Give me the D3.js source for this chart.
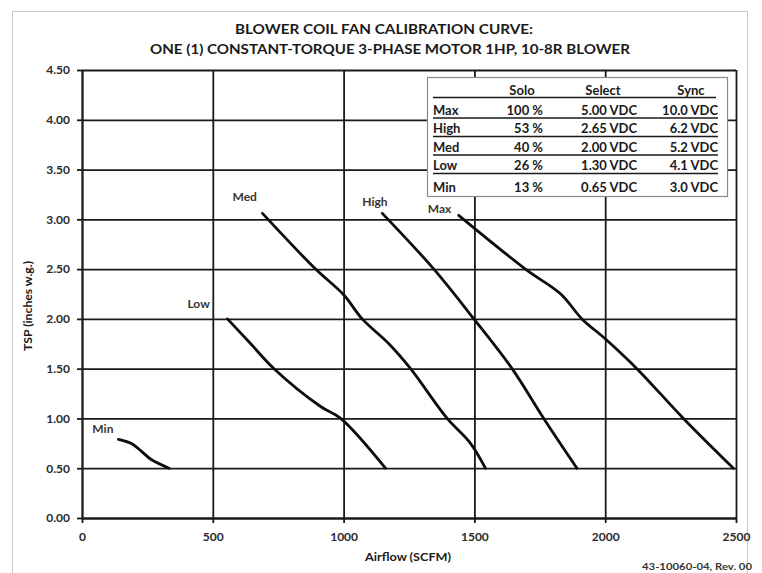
<!DOCTYPE html>
<html>
<head>
<meta charset="utf-8">
<script src="https://cdn.jsdelivr.net/npm/d3@7"></script>
<style>
  html, body { margin: 0; padding: 0; background: #fff; }
  svg { display: block; font-family: Lato, "Open Sans", sans-serif; font-weight: bold; }
</style>
</head>
<body>
<svg id="chart" width="762" height="573"></svg>
<script>
// ---- Data ----
const titleLines = ["BLOWER COIL FAN CALIBRATION CURVE:", "ONE (1) CONSTANT-TORQUE 3-PHASE MOTOR 1HP, 10-8R BLOWER"];
const xTicks = [0, 500, 1000, 1500, 2000, 2500];
const yTicks = [0, 0.5, 1.0, 1.5, 2.0, 2.5, 3.0, 3.5, 4.0, 4.5];
const xLabel = "Airflow (SCFM)";
const yLabel = "TSP (inches w.g.)";
const footer = "43-10060-04, Rev. 00";

const seriesNames = ["Min", "Low", "Med", "High", "Max"];
const minX  = [139, 187, 232, 263, 333];
const minY  = [0.79, 0.75, 0.66, 0.59, 0.50];
const lowX  = [556, 645, 734, 912, 989, 1160];
const lowY  = [2.00, 1.75, 1.50, 1.12, 1.00, 0.50];
const medX  = [690, 893, 1001, 1071, 1173, 1256, 1396, 1485, 1542];
const medY  = [3.06, 2.50, 2.24, 2.00, 1.75, 1.50, 1.00, 0.75, 0.50];
const highX = [1148, 1345, 1498, 1644, 1765, 1892];
const highY = [3.06, 2.50, 2.00, 1.50, 1.00, 0.50];
const maxX  = [1440, 1695, 1830, 1911, 2000, 2121, 2299, 2490];
const maxY  = [3.04, 2.50, 2.25, 2.00, 1.80, 1.50, 1.00, 0.50];

const tableHeader = ["Solo", "Select", "Sync"];
const tableRows = ["Max", "High", "Med", "Low", "Min"];
const soloVals = ["100 %", "53 %", "40 %", "26 %", "13 %"];
const selectVals = ["5.00 VDC", "2.65 VDC", "2.00 VDC", "1.30 VDC", "0.65 VDC"];
const syncVals = ["10.0 VDC", "6.2 VDC", "5.2 VDC", "4.1 VDC", "3.0 VDC"];

// ---- Layout ----
const svg = d3.select("#chart");
const x = d3.scaleLinear().domain([0, 2500]).range([82, 736]);
const y = d3.scaleLinear().domain([0, 4.5]).range([518, 70]);
const ink = "#1a1a1a";

// page border
svg.append("rect").attr("x", 12.5).attr("y", 11.5).attr("width", 735).attr("height", 600)
  .attr("fill", "none").attr("stroke", "#c8c8c8").attr("stroke-width", 1);

// title
svg.append("text").attr("x", 384).attr("y", 33.5).attr("text-anchor", "middle")
  .attr("font-size", 14).attr("fill", ink).attr("textLength", 298).attr("lengthAdjust", "spacingAndGlyphs")
  .text(titleLines[0]);
svg.append("text").attr("x", 390).attr("y", 54).attr("text-anchor", "middle")
  .attr("font-size", 14).attr("fill", ink).attr("textLength", 480).attr("lengthAdjust", "spacingAndGlyphs")
  .text(titleLines[1]);

// grid
const grid = svg.append("g");
grid.append("g").attr("transform", `translate(${x(0)},0)`)
  .call(d3.axisLeft(y).tickValues(yTicks).tickSize(-(x(2500) - x(0))).tickFormat(""))
  .call(g => g.select(".domain").remove())
  .call(g => g.selectAll("line").attr("stroke", ink).attr("stroke-width", 1.8));
grid.append("g").attr("transform", `translate(0,${y(0)})`)
  .call(d3.axisBottom(x).tickValues(xTicks).tickSize(-(y(0) - y(4.5))).tickFormat(""))
  .call(g => g.select(".domain").remove())
  .call(g => g.selectAll("line").attr("stroke", ink).attr("stroke-width", 1.8));

// axes
const yAxis = svg.append("g").attr("transform", `translate(${x(0)},0)`)
  .call(d3.axisLeft(y).tickValues(yTicks).tickSize(5).tickSizeOuter(0).tickPadding(7).tickFormat(d3.format(".2f")));
const xAxis = svg.append("g").attr("transform", `translate(0,${y(0)})`)
  .call(d3.axisBottom(x).tickValues(xTicks).tickSize(5).tickSizeOuter(0).tickPadding(9).tickFormat(d3.format("d")));
[yAxis, xAxis].forEach(a => {
  a.select(".domain").attr("stroke", ink).attr("stroke-width", 1.8);
  a.selectAll(".tick line").attr("stroke", ink).attr("stroke-width", 1.8);
  a.selectAll(".tick text").attr("font-size", 12).attr("font-family", "Lato, sans-serif")
    .attr("font-weight", "bold").attr("fill", "#2a2a2a");
});

// axis titles
svg.append("text").attr("x", 408).attr("y", 561).attr("text-anchor", "middle")
  .attr("font-size", 12).attr("fill", ink).attr("textLength", 86).attr("lengthAdjust", "spacingAndGlyphs")
  .text(xLabel);
svg.append("text").attr("transform", "translate(32,306) rotate(-90)").attr("text-anchor", "middle")
  .attr("font-size", 11.5).attr("fill", ink).attr("textLength", 90).attr("lengthAdjust", "spacingAndGlyphs")
  .text(yLabel);

// footer
svg.append("text").attr("x", 752).attr("y", 570).attr("text-anchor", "end")
  .attr("font-size", 9.5).attr("fill", "#333").attr("textLength", 110).attr("lengthAdjust", "spacingAndGlyphs")
  .text(footer);

// curves
const seriesX = [minX, lowX, medX, highX, maxX];
const seriesY = [minY, lowY, medY, highY, maxY];
const line = d3.line().x(d => x(d[0])).y(d => y(d[1])).curve(d3.curveCatmullRom.alpha(0.5));
seriesNames.forEach((name, i) => {
  const pts = seriesX[i].map((v, j) => [v, seriesY[i][j]]);
  svg.append("path").attr("d", line(pts)).attr("fill", "none")
    .attr("stroke", "#0d0d0d").attr("stroke-width", 2.8)
    .attr("stroke-linecap", "round").attr("stroke-linejoin", "round");
});

// curve labels (placed relative to each curve's first point)
const labelDx = [-26, -40, -30, -20, -31];
const labelDy = [-6, -11, -12, -7, -2];
seriesNames.forEach((name, i) => {
  svg.append("text")
    .attr("x", x(seriesX[i][0]) + labelDx[i])
    .attr("y", y(seriesY[i][0]) + labelDy[i])
    .attr("font-size", 12).attr("fill", "#3a3530").text(name);
});

// table
const tb = svg.append("g");
tb.append("rect").attr("x", 427.5).attr("y", 77.5).attr("width", 300).attr("height", 119)
  .attr("fill", "#fff").attr("stroke", "#8a8a8a").attr("stroke-width", 1.2);
const colCenters = [522, 603, 691];
tableHeader.forEach((h, i) => {
  tb.append("text").attr("x", colCenters[i]).attr("y", 95).attr("text-anchor", "middle")
    .attr("font-size", 13).attr("fill", ink).text(h);
});
tb.append("line").attr("x1", 433).attr("x2", 716).attr("y1", 97.5).attr("y2", 97.5)
  .attr("stroke", ink).attr("stroke-width", 1.6);
const rowBase = [114.5, 133, 151.5, 170, 191.5];
const rowLine = [118, 136.5, 155, 173.5];
const colRight = [543, 637, 718];
const cols = [soloVals, selectVals, syncVals];
tableRows.forEach((r, i) => {
  tb.append("text").attr("x", 433).attr("y", rowBase[i]).attr("font-size", 13).attr("fill", ink).text(r);
  cols.forEach((c, k) => {
    tb.append("text").attr("x", colRight[k]).attr("y", rowBase[i]).attr("text-anchor", "end")
      .attr("font-size", 13).attr("fill", ink).text(c[i]);
  });
  if (i < rowLine.length) {
    tb.append("line").attr("x1", 433).attr("x2", 718).attr("y1", rowLine[i]).attr("y2", rowLine[i])
      .attr("stroke", ink).attr("stroke-width", 1.6);
  }
});
</script>
</body>
</html>
